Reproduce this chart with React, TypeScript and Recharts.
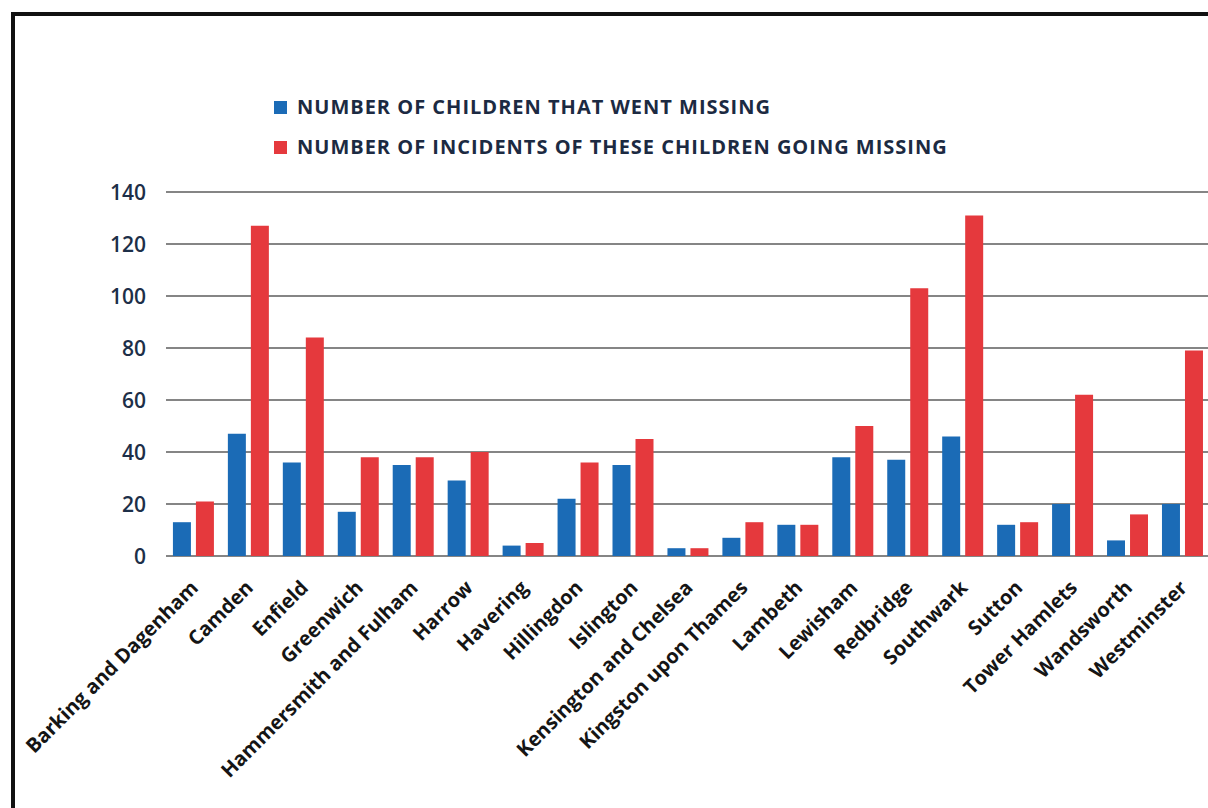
import React from 'react';
import { BarChart, Bar, XAxis, YAxis, CartesianGrid } from 'recharts';

const boroughs = [
  'Barking and Dagenham',
  'Camden',
  'Enfield',
  'Greenwich',
  'Hammersmith and Fulham',
  'Harrow',
  'Havering',
  'Hillingdon',
  'Islington',
  'Kensington and Chelsea',
  'Kingston upon Thames',
  'Lambeth',
  'Lewisham',
  'Redbridge',
  'Southwark',
  'Sutton',
  'Tower Hamlets',
  'Wandsworth',
  'Westminster',
];

const childrenMissing = [13, 47, 36, 17, 35, 29, 4, 22, 35, 3, 7, 12, 38, 37, 46, 12, 20, 6, 20];
const incidents = [21, 127, 84, 38, 38, 40, 5, 36, 45, 3, 13, 12, 50, 103, 131, 13, 62, 16, 79];

const yTicks = [0, 20, 40, 60, 80, 100, 120, 140];

const seriesNames = [
  'NUMBER OF CHILDREN THAT WENT MISSING',
  'NUMBER OF INCIDENTS OF THESE CHILDREN GOING MISSING',
];

const BLUE = '#1b6bb6';
const RED = '#e5393d';
const FONT = '"Open Sans", "Liberation Sans", sans-serif';

const data = boroughs.map((name, i) => ({
  name,
  children: childrenMissing[i],
  incidents: incidents[i],
}));

const YTick = ({ x, y, payload }: any) => (
  <text x={x} y={y} dy={8} textAnchor="end" fontFamily={FONT} fontSize={21} fontWeight={600} fill="#1d2f48">
    {payload.value}
  </text>
);

const XTick = ({ x, y, payload }: any) => (
  <g transform={`translate(${x + 6},${y + 33})`}>
    <text textAnchor="end" transform="rotate(-45)" fontFamily={FONT} fontSize={20} fontWeight={700} fill="#151515">
      {payload.value}
    </text>
  </g>
);

const legendRow = (color: string, label: string, top: number) => (
  <div style={{ position: 'absolute', left: 274, top, display: 'flex', alignItems: 'center' }}>
    <span style={{ width: 13, height: 13, background: color, display: 'inline-block', marginRight: 10 }} />
    <span
      style={{
        fontFamily: FONT,
        fontSize: 20,
        fontWeight: 700,
        letterSpacing: 1,
        color: '#1c2a42',
        whiteSpace: 'nowrap',
        lineHeight: '24px',
      }}
    >
      {label}
    </span>
  </div>
);

export default function App() {
  return (
    <div
      style={{
        position: 'fixed',
        left: 0,
        top: 0,
        width: 1208,
        height: 808,
        overflow: 'hidden',
        background: '#ffffff',
      }}
    >
      {/* scanned page frame */}
      <div
        style={{
          position: 'absolute',
          left: 11,
          top: 12,
          width: 1220,
          height: 820,
          borderTop: '4px solid #111',
          borderLeft: '4px solid #111',
        }}
      />

      {legendRow(BLUE, seriesNames[0], 95)}
      {legendRow(RED, seriesNames[1], 135)}

      <div style={{ position: 'absolute', left: 0, top: 0 }}>
        <BarChart
          width={1210}
          height={808}
          data={data}
          margin={{ top: 192, right: 0, left: 0, bottom: 0 }}
          barCategoryGap="12.6%"
          barGap={5}
        >
          <CartesianGrid vertical={false} stroke="#858585" strokeWidth={2} />
          <XAxis
            dataKey="name"
            interval={0}
            height={252}
            tickLine={false}
            axisLine={false}
            tickSize={0}
            tickMargin={0}
            tick={<XTick />}
          />
          <YAxis
            width={166}
            domain={[0, 140]}
            ticks={yTicks}
            tickLine={false}
            axisLine={false}
            tickSize={0}
            tickMargin={20}
            tick={<YTick />}
          />
          <Bar dataKey="children" name={seriesNames[0]} fill={BLUE} isAnimationActive={false} />
          <Bar dataKey="incidents" name={seriesNames[1]} fill={RED} isAnimationActive={false} />
        </BarChart>
      </div>
    </div>
  );
}
